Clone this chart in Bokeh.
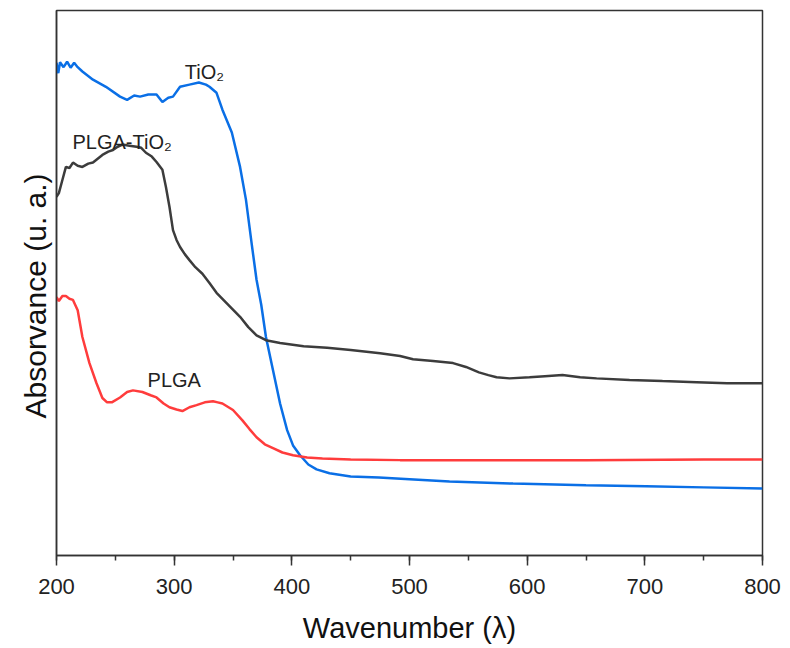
from bokeh.plotting import figure
from bokeh.models import Range1d, SingleIntervalTicker, FixedTicker, Label, Title
from bokeh.embed import file_html
from bokeh.resources import INLINE

# ---- data (arbitrary absorbance units) ----
tio2_x = [200, 201.5, 203, 206, 209, 212, 215, 218, 222, 231, 242, 254, 260, 266, 271, 278,
          285, 290, 295, 299, 305, 313, 321, 327, 330, 336, 341, 349, 356, 361, 366, 370,
          374, 378, 384, 390, 396, 401, 407, 414, 421, 432, 450, 474, 500, 534, 588, 650,
          701, 750, 800]
tio2_y = [0.904, 0.885, 0.905, 0.896, 0.906, 0.895, 0.904, 0.896, 0.888, 0.873, 0.860, 0.842,
          0.836, 0.844, 0.842, 0.846, 0.846, 0.832, 0.840, 0.842, 0.860, 0.864, 0.868, 0.864,
          0.860, 0.849, 0.818, 0.776, 0.713, 0.653, 0.570, 0.506, 0.460, 0.401, 0.340, 0.279,
          0.230, 0.202, 0.184, 0.167, 0.158, 0.151, 0.145, 0.143, 0.140, 0.136, 0.132, 0.129,
          0.127, 0.125, 0.123]

plga_x = [200, 202, 205, 208, 211, 214, 218, 222, 228, 234, 239, 243, 247, 254, 260, 265, 273,
          280, 285, 291, 296, 302, 307, 313, 319, 326, 333, 337, 341, 350, 358, 364, 370, 377,
          384, 392, 401, 413, 426, 450, 492, 550, 650, 750, 800]
plga_y = [0.474, 0.467, 0.476, 0.476, 0.471, 0.469, 0.450, 0.401, 0.353, 0.316, 0.289, 0.281,
          0.281, 0.290, 0.300, 0.303, 0.300, 0.294, 0.290, 0.279, 0.272, 0.268, 0.265, 0.272,
          0.276, 0.281, 0.283, 0.281, 0.279, 0.267, 0.248, 0.232, 0.217, 0.204, 0.197, 0.189,
          0.184, 0.180, 0.178, 0.176, 0.175, 0.175, 0.175, 0.176, 0.176]

mix_x = [200, 202, 205, 208, 211, 214, 218, 222, 227, 231, 235, 239, 244, 248, 252, 256, 262,
         268, 272, 276, 281, 285, 290, 293, 296, 299, 302, 305, 309, 313, 318, 324, 330, 336,
         346, 356, 363, 370, 378, 390, 410, 430, 450, 475, 492, 503, 520, 537, 548, 559, 567,
         574, 585, 602, 615, 630, 645, 659, 687, 715, 744, 770, 800]
mix_y = [0.658, 0.665, 0.689, 0.713, 0.711, 0.721, 0.715, 0.713, 0.719, 0.721, 0.728, 0.735,
         0.741, 0.744, 0.750, 0.754, 0.752, 0.750, 0.748, 0.739, 0.732, 0.722, 0.708, 0.676,
         0.640, 0.597, 0.579, 0.566, 0.553, 0.542, 0.529, 0.517, 0.500, 0.482, 0.460, 0.438,
         0.419, 0.404, 0.395, 0.390, 0.384, 0.381, 0.377, 0.371, 0.366, 0.360, 0.357, 0.353,
         0.346, 0.336, 0.331, 0.327, 0.325, 0.327, 0.329, 0.331, 0.327, 0.325, 0.322, 0.320,
         0.318, 0.316, 0.316]

labels = ["TiO₂", "PLGA-TiO₂", "PLGA"]
label_x = [309, 213.6, 277.4]
label_y = [0.888, 0.759, 0.322]

x_title = "Wavenumber (λ)"
y_title = "Absorvance (u. a.)"

FONT = "Liberation Sans"

p = figure(width=784, height=648, output_backend="svg", toolbar_location=None,
           x_range=Range1d(200, 800), y_range=Range1d(0, 1),
           min_border_left=56, min_border_top=10, min_border_right=22, min_border_bottom=93,
           background_fill_color="white", border_fill_color="white")
p.grid.visible = False
p.outline_line_color = "#333333"
p.outline_line_width = 1.5

p.line(tio2_x, tio2_y, line_color="#0a6fe6", line_width=2.5)
p.line(mix_x, mix_y, line_color="#3c3c3c", line_width=2.5)
p.line(plga_x, plga_y, line_color="#ff3c3c", line_width=2.5)

for t, lx, ly in zip(labels, label_x, label_y):
    p.add_layout(Label(x=lx, y=ly, text=t, text_font=FONT, text_font_size="20px",
                       text_color="#222222", text_align="left", text_baseline="alphabetic"))

xa = p.xaxis[0]
xa.ticker = SingleIntervalTicker(interval=100, num_minor_ticks=2)
xa.axis_line_color = "#333333"
xa.axis_line_width = 1.5
xa.major_tick_line_color = "#333333"
xa.major_tick_line_width = 1.5
xa.minor_tick_line_color = "#333333"
xa.minor_tick_line_width = 1.5
xa.major_tick_out = 10
xa.major_tick_in = 0
xa.minor_tick_out = 5
xa.minor_tick_in = 0
xa.major_label_text_font = FONT
xa.major_label_text_font_size = "22px"
xa.major_label_text_color = "#222222"
xa.major_label_standoff = 13
xa.axis_label = x_title
xa.axis_label_text_font = FONT
xa.axis_label_text_font_size = "29px"
xa.axis_label_text_font_style = "normal"
xa.axis_label_text_color = "#111111"
xa.axis_label_standoff = 15

ya = p.yaxis[0]
ya.ticker = FixedTicker(ticks=[])
ya.axis_line_color = "#333333"
ya.axis_line_width = 1.5
ya.major_tick_out = 0
ya.major_tick_in = 0
ya.minor_tick_out = 0
ya.minor_tick_in = 0
ya.major_label_standoff = 0

p.add_layout(Title(text=y_title, align="left", offset=137, standoff=5, vertical_align="top",
                   text_font=FONT, text_font_size="30px", text_font_style="normal",
                   text_color="#111111"), "left")

open("out.html", "w").write(file_html(p, INLINE))
